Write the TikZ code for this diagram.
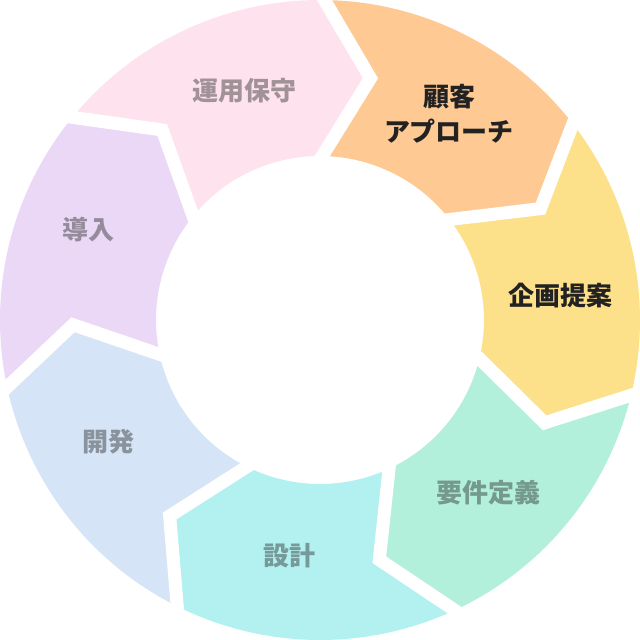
\documentclass[tikz,border=0pt]{standalone}
\usepackage{fontspec}
\newfontfamily\jpfont{Noto Sans CJK JP}
\usepackage{tikz}
\usetikzlibrary{calc}
\definecolor{cOrange}{HTML}{FEC993}
\definecolor{cYellow}{HTML}{FDE08A}
\definecolor{cMint}{HTML}{B2F0DC}
\definecolor{cCyan}{HTML}{B3F0F0}
\definecolor{cBlue}{HTML}{D5E4F6}
\definecolor{cLilac}{HTML}{EBD8F6}
\definecolor{cPink}{HTML}{FEE3EE}
\definecolor{cText}{HTML}{222222}
\tikzset{%
  lbl/.style = {font=\jpfont\bfseries\fontsize{26}{35}\selectfont,
        text=cText, align=center, inner sep=0pt},
  dim/.style = {lbl, text opacity=0.42},
  gap/.style = {draw=white, line width=13pt, line join=miter}
}
% one ring part: start angle, end angle, colour
\newcommand{\ringpart}[3]{%
  \fill[#3] (#1:320) arc[start angle=#1, end angle=#2, radius=320]
    -- ({#2-11}:247) -- (#2:164) arc[start angle=#2, end angle=#1, radius=164]
    -- ({#1-11}:247) -- cycle;}
% white notch between two parts
\newcommand{\ringgap}[1]{%
  \draw[gap] ($({#1-11}:247)!1.4!(#1:320)$) -- ({#1-11}:247)
    -- ($({#1-11}:247)!1.4!(#1:164)$);}
\begin{document}
\begin{tikzpicture}[x=1pt,y=1pt]
\useasboundingbox (-320,-320) rectangle (320,320);
\ringpart{89.2}{37.8}{cOrange}
\ringpart{37.8}{-13.6}{cYellow}
\ringpart{-13.6}{-65.1}{cMint}
\ringpart{-65.1}{-116.5}{cCyan}
\ringpart{-116.5}{-167.9}{cBlue}
\ringpart{192.1}{140.7}{cLilac}
\ringpart{140.7}{89.2}{cPink}
\ringgap{89.2}
\ringgap{37.8}
\ringgap{-13.6}
\ringgap{-65.1}
\ringgap{-116.5}
\ringgap{-167.9}
\ringgap{140.7}
\node[lbl] (approach) at (129,206) {顧客\\アプローチ};
\node[lbl] (proposal) at (240,24) {企画提案};
\node[dim] (requirements) at (169,-173) {要件定義};
\node[dim] (design) at (-30,-236) {設計};
\node[dim] (develop) at (-211,-122) {開発};
\node[dim] (deploy) at (-231,90) {導入};
\node[dim] (maintain) at (-75,229) {運用保守};
\end{tikzpicture}
\end{document}
